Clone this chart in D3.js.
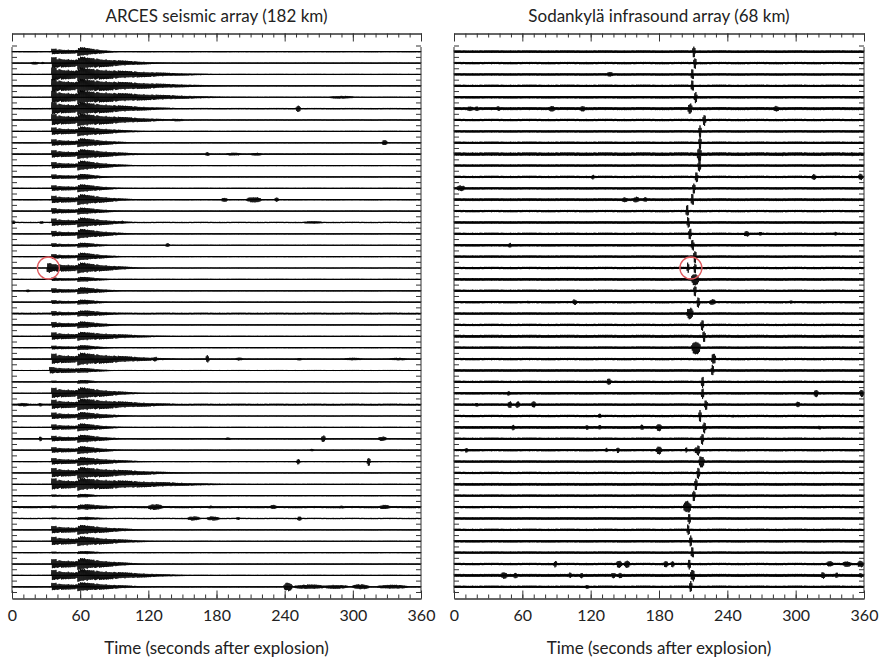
<!DOCTYPE html>
<html>
<head>
<meta charset="utf-8">
<script src="https://cdn.jsdelivr.net/npm/d3@7"></script>
<style>
  html, body { margin: 0; padding: 0; background: #fff; }
  svg { display: block; font-family: Lato, "Open Sans", sans-serif; }
</style>
</head>
<body>
<svg id="chart" width="879" height="659"></svg>
<script>
// Data
const panelTitles = ["ARCES seismic array (182 km)", "Sodankylä infrasound array (68 km)"];
const axisTitle = "Time (seconds after explosion)";
const majorTicks = [0, 60, 120, 180, 240, 300, 360];
const minorTicks = [0, 10, 20, 30, 40, 50, 60, 70, 80, 90, 100, 110, 120, 130, 140, 150, 160, 170, 180,
                    190, 200, 210, 220, 230, 240, 250, 260, 270, 280, 290, 300, 310, 320, 330, 340, 350, 360];

// ARCES seismic traces (48, top to bottom); amplitudes relative to trace spacing
const arcesOnset = [35, 35, 35, 35, 35, 35, 35, 35, 35, 35, 35, 35, 35, 35, 35, 35, 35, 35, 35, 31, 35, 35, 35, 35,
                    35, 35, 35, 35, 33, 35, 35, 35, 35, 35, 35, 35, 35, 35, 35, 35, 35, 35, 35, 35, 35, 35, 35, 35];
const arcesS_time = 58;
const arcesP = [.43, .86, 1, 1, .93, .93, .86, .57, .5, .57, .5, .36, .43, .57, .43, .57, .43, .29, .36, .71, .26, .36, .29, .36,
                .43, .57, .29, .79, .5, .17, .79, .71, .5, .43, .43, .43, .5, .71, .86, .17, .21, .14, .57, .64, .14, .71, .79, .57];
const arcesS = [.64, .93, 1, 1, 1, .93, .93, .71, .64, .71, .71, .43, .57, .79, .5, .71, .71, .36, .57, .79, .36, .5, .36, .43,
                .5, .64, .36, .93, .36, .26, .86, .86, .57, .57, .57, .57, .64, .86, .93, .26, .36, .21, .71, .71, .21, .86, .93, .64];
const arcesCoda = [95, 140, 180, 190, 200, 150, 150, 120, 110, 120, 110, 90, 100, 110, 100, 110, 110, 90, 100, 120, 90, 100, 90, 100,
                   100, 140, 90, 150, 90, 80, 120, 150, 110, 100, 100, 100, 120, 160, 200, 80, 95, 85, 120, 130, 85, 120, 160, 120];
const arcesNoise = [.08, .08, .08, .08, .08, .1, .1, .08, .08, .1, .08, .08, .08, .1, .08, .1, .08, .08, .08, .08, .08, .08, .08, .13,
                    .08, .08, .08, .1, .08, .08, .08, .14, .08, .08, .1, .08, .08, .08, .08, .08, .16, .1, .08, .08, .08, .08, .08, .1];
// [trace, time s, amplitude, half-width s]
const arcesBlips = [
  [1, 20, .21, 4], [1, 27, .17, 2], [4, 290, .21, 12], [5, 252, .5, 2], [6, 145, .19, 8], [8, 328, .4, 2.5],
  [9, 172, .29, 2], [9, 195, .21, 8], [9, 215, .21, 6], [13, 187, .31, 3], [13, 213, .4, 7], [13, 233, .31, 2],
  [15, 1, .29, 2], [15, 26, .21, 2], [15, 97, .26, 2], [15, 265, .19, 10], [17, 137, .29, 2], [21, 14, .21, 2],
  [27, 126, .36, 2], [27, 172, .57, 1.5], [27, 200, .21, 4], [27, 253, .19, 3], [27, 300, .19, 10], [27, 340, .19, 10],
  [31, 10, .26, 6], [31, 25, .26, 2], [34, 25, .36, 1.5], [34, 190, .19, 3], [34, 274, .5, 2], [34, 326, .33, 4],
  [35, 264, .19, 2], [36, 252, .43, 1.5], [36, 314, .64, 1.5],
  [40, 126, .43, 7], [40, 175, .21, 3], [40, 230, .33, 3], [40, 290, .21, 3], [40, 328, .33, 5],
  [41, 160, .31, 6], [41, 177, .31, 6], [41, 199, .21, 2], [41, 253, .33, 2],
  [47, 243, .64, 4], [47, 262, .33, 15], [47, 285, .29, 12], [47, 307, .37, 8], [47, 335, .29, 15]
];

// Sodankylä infrasound traces (48): arrival time, amplitude, half-width, noise
const sodArrival = [210.7, 211.6, 209.3, 209.3, 212.2, 207.2, 219.8, 216, 216, 215.4, 215.4, 213, 210.7, 209.3, 204.8, 205.7,
                    207.2, 209.5, 211.6, 211.6, 211.6, 211.6, 214.5, 207.2, 218, 219.5, 212.5, 228, 227, 218.3, 218.3, 221.2,
                    216, 219.8, 218, 214.5, 217.4, 214.5, 212.5, 210.7, 204.8, 206.6, 205.7, 207.8, 209.3, 206.6, 209.6, 207.8];
const sodAmp = [.88, .88, .85, .88, .9, .8, .9, .88, .9, 1.05, .95, .85, .82, .95, .9, .85, .88, .88, 1, .82, .9, .85, .85, .88,
                .88, .9, 1, .82, .82, .88, .82, .82, .88, .9, .88, .85, .88, .92, .95, .85, .9, .85, .82, .85, .88, .82, .9, .85];
const sodWidth = [1.3, 1.3, 1.3, 1.3, 1.3, 2, 1.3, 1.3, 1.3, 2, 1.3, 1.3, 1.3, 1.3, 1.3, 1.3, 1.3, 1.3, 1.3, 1.1, 3.5, 1.3, 1.3, 3,
                  1.3, 1.3, 4, 2, 1.3, 1.3, 1.3, 1.3, 1.3, 1.3, 1.3, 1.3, 2.5, 1.3, 1.3, 1.3, 3.5, 1.3, 1.3, 1.3, 1.3, 1.3, 2, 1.3];
const sodNoise = [.19, .17, .17, .17, .17, .22, .17, .17, .17, .26, .17, .17, .17, .2, .17, .17, .17, .17, .17, .17, .2, .17, .17, .17,
                  .17, .22, .17, .17, .17, .17, .17, .17, .17, .2, .17, .17, .17, .17, .2, .17, .17, .17, .17, .17, .17, .17, .22, .17];
const sodBlips = [
  [2, 137, .36, 3], [5, 14, .36, 3], [5, 20, .36, 2], [5, 39, .36, 2], [5, 86, .43, 3], [5, 113, .43, 2.5], [5, 283, .4, 3],
  [9, 31, .26, 2], [9, 62, .26, 2], [9, 160, .26, 3], [9, 289, .29, 3], [9, 350, .29, 3],
  [11, 122, .36, 1.5], [11, 316, .43, 2], [11, 357, .5, 2], [12, 6, .43, 4],
  [13, 150, .36, 3], [13, 160, .43, 3], [13, 168, .36, 2],
  [16, 257, .43, 2.5], [16, 269, .29, 2], [16, 335, .29, 1.5], [17, 49, .36, 1.5], [19, 205.5, .8, 1.1],
  [22, 65, .21, 1.5], [22, 106, .43, 2], [22, 227, .43, 3], [22, 296, .26, 1.5], [23, 140, .21, 1.5],
  [29, 136, .5, 2], [30, 48, .36, 1.5], [30, 318, .57, 2], [30, 358, .57, 2],
  [31, 20, .29, 2], [31, 49, .5, 2], [31, 56, .5, 2], [31, 70, .5, 2], [31, 302, .43, 2],
  [32, 128, .36, 1.5], [32, 245, .21, 2],
  [33, 52, .43, 1.5], [33, 117, .36, 1.5], [33, 128, .36, 1.5], [33, 165, .43, 1.5], [33, 180, .57, 2.5], [33, 221, .29, 1.5], [33, 321, .29, 2],
  [35, 11, .36, 1.5], [35, 134, .36, 1], [35, 144, .43, 1.5], [35, 180, .64, 2.5], [35, 204, .43, 1], [35, 213, .5, 2],
  [45, 89, .5, 1.5], [45, 145, .57, 2.5], [45, 152, .57, 2.5], [45, 186, .5, 2], [45, 192, .5, 1.5], [45, 330, .43, 3], [45, 345, .43, 4], [45, 357, .5, 3],
  [46, 44, .5, 3], [46, 54, .43, 2], [46, 102, .43, 1.5], [46, 112, .43, 1.5], [46, 140, .43, 2], [46, 146, .43, 2], [46, 324, .5, 2], [46, 336, .43, 1.5], [46, 357, .36, 2],
  [47, 117, .29, 2]
];

// highlighted arrivals: [panel, trace, time s]
const circled = [[0, 19, 32], [1, 19, 208]];

// ---- drawing ----
const svg = d3.select("#chart");
const nTraces = arcesP.length;
const y = d3.scaleLinear().domain([0, nTraces - 1]).range([51.7, 586.8]);
const amp = d3.scaleLinear().domain([0, 1]).range([0, 7]);
// fixed wiggle texture so the filled envelopes look like dense waveforms
const grain = [1, .8, .93, .74, .98, .84, .9, .77, .96, .82, .92, .7, 1, .86, .78, .95, .75, .88, .97, .8, .93, .72, .86, .99, .82,
               .91, .76, .95, .84, .88, .74, .97, .8, .93, .77, .9, .98];
const samples = d3.range(0, 360.001, 0.45);
const frameTop = 47, frameBottom = 593, axisTopY = 33.5, axisBottomY = 598.5;

function bump(t, b) {
  const d = Math.abs(t - b[1]) / b[3];
  return d < 1 ? b[2] * Math.sqrt(1 - d * d) : 0;
}

const arcesByTrace = d3.group(arcesBlips, d => d[0]);
const sodByTrace = d3.group(sodBlips, d => d[0]);

function arcesEnv(i, t) {
  let e = arcesNoise[i];
  const tp = arcesOnset[i], ts = arcesS_time;
  // P phase and its short coda, up to the S arrival
  if (t >= tp && t < ts) {
    const f = t < tp + 4 ? 1 : 0.8 - 0.2 * (t - tp - 4) / (ts - tp - 4);
    e = Math.max(e, arcesP[i] * f);
  }
  // S phase and decaying coda
  if (t >= ts) {
    if (t < ts + 6) e = Math.max(e, arcesS[i]);
    else {
      const u = (t - ts - 6) / (arcesCoda[i] - ts - 6);
      if (u < 1) e = Math.max(e, arcesS[i] * 0.8 * Math.pow(1 - u, 1.6) + arcesNoise[i]);
    }
  }
  (arcesByTrace.get(i) || []).forEach(b => { e = Math.max(e, bump(t, b)); });
  return e;
}

function sodEnv(i, t) {
  let e = sodNoise[i];
  e = Math.max(e, bump(t, [i, sodArrival[i], sodAmp[i], sodWidth[i]]));
  (sodByTrace.get(i) || []).forEach(b => { e = Math.max(e, bump(t, b)); });
  return e;
}

const panels = [
  { title: panelTitles[0], x: d3.scaleLinear().domain([0, 360]).range([12, 421]), env: arcesEnv, base: 1.2 },
  { title: panelTitles[1], x: d3.scaleLinear().domain([0, 360]).range([454, 864]), env: sodEnv, base: 1.8 }
];

const line = d3.line();

panels.forEach((p, pi) => {
  const g = svg.append("g");
  const [x0, x1] = p.x.range();

  // title
  g.append("text")
    .attr("x", (x0 + x1) / 2).attr("y", 22)
    .attr("text-anchor", "middle")
    .attr("font-size", 17).attr("fill", "#222")
    .text(p.title);

  // traces
  const tg = g.append("g");
  d3.range(nTraces).forEach(i => {
    const y0 = y(i);
    tg.append("line")
      .attr("x1", x0).attr("x2", x1).attr("y1", y0).attr("y2", y0)
      .attr("stroke", "#000").attr("stroke-width", p.base);
    const pts = samples.map((t, k) => {
      const e = amp(p.env(i, t) * grain[k % grain.length]);
      return [p.x(t), y0 + (k % 2 ? e : -e)];
    });
    tg.append("path")
      .attr("d", line(pts))
      .attr("fill", "none").attr("stroke", "#000").attr("stroke-width", 0.8);
  });

  // frame sides with small ticks between traces
  [x0, x1].forEach((xx, side) => {
    g.append("line")
      .attr("x1", xx).attr("x2", xx).attr("y1", frameTop).attr("y2", frameBottom)
      .attr("stroke", "#333").attr("stroke-width", 1);
    g.selectAll(null).data(d3.range(nTraces + 1)).join("line")
      .attr("x1", xx).attr("x2", side ? xx - 5 : xx + 5)
      .attr("y1", d => y(d - 0.5)).attr("y2", d => y(d - 0.5))
      .attr("stroke", "#333").attr("stroke-width", 1);
  });

  // top axis: ticks pointing down
  const topMinor = d3.axisTop(p.x).tickValues(minorTicks).tickSizeInner(-4).tickSizeOuter(0).tickFormat("");
  const topMajor = d3.axisTop(p.x).tickValues(majorTicks).tickSizeInner(-8).tickSizeOuter(0).tickFormat("");
  g.append("g").attr("transform", `translate(0,${axisTopY})`).call(topMinor);
  g.append("g").attr("transform", `translate(0,${axisTopY})`).call(topMajor);

  // bottom axis: ticks pointing up, labels below
  const botMinor = d3.axisBottom(p.x).tickValues(minorTicks).tickSizeInner(-4).tickSizeOuter(0).tickFormat("");
  const botMajor = d3.axisBottom(p.x).tickValues(majorTicks).tickSizeInner(-8).tickSizeOuter(0)
    .tickPadding(11).tickFormat(d3.format("d"));
  g.append("g").attr("transform", `translate(0,${axisBottomY})`).call(botMinor);
  g.append("g").attr("transform", `translate(0,${axisBottomY})`).call(botMajor)
    .call(a => a.selectAll("text").attr("font-size", 16).attr("font-family", "Lato, 'Open Sans', sans-serif").attr("fill", "#222"));

  g.selectAll(".domain, .tick line").attr("stroke", "#333");

  // axis title
  g.append("text")
    .attr("x", (x0 + x1) / 2).attr("y", 654)
    .attr("text-anchor", "middle")
    .attr("font-size", 17).attr("fill", "#222")
    .text(axisTitle);
});

// red circles around highlighted arrivals
svg.selectAll(".mark").data(circled).join("circle")
  .attr("cx", d => panels[d[0]].x(d[2]))
  .attr("cy", d => y(d[1]))
  .attr("r", 11)
  .attr("fill", "none")
  .attr("stroke", "#e05a5e")
  .attr("stroke-width", 1.3);
</script>
</body>
</html>
